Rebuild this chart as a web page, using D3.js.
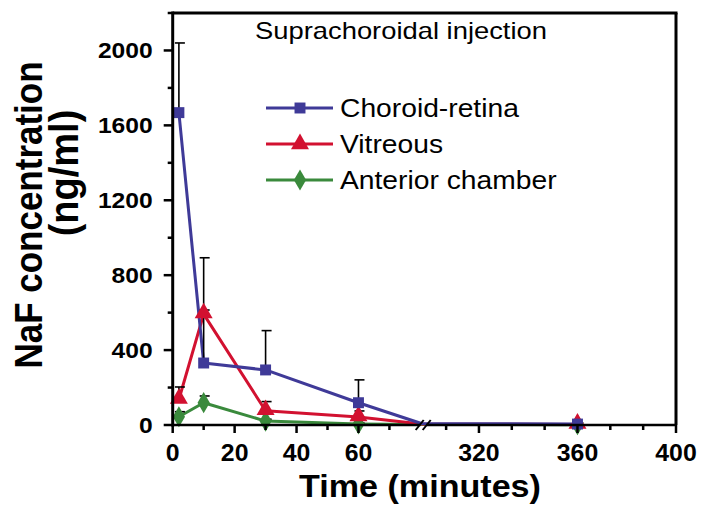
<!DOCTYPE html>
<html><head><meta charset="utf-8">
<script src="https://cdn.jsdelivr.net/npm/d3@7"></script>
<style>body{margin:0;background:#fff}svg{display:block}</style>
</head><body>
<svg id="c" width="706" height="519"></svg>
<script>
// ---- data ----
const times = [2, 10, 30, 60, 120, 360];
const choroidRetina = [1668, 331, 294, 119, 8, 5];
const choroidRetinaErr = [372, 562, 210, 122, 0, 6];
const vitreous = [136, 592, 76, 43, 5, 3];
const vitreousErr = [67, 22, 49, 32, 0, 0];
const anterior = [44, 119, 21, 6, 3, 2];
const anteriorErr = [27, 36, 10, 5, 0, 0];
const seriesNames = ["Choroid-retina", "Vitreous", "Anterior chamber"];
const yTicks = [0, 400, 800, 1200, 1600, 2000];
const yMinor = [200, 600, 1000, 1400, 1800, 2200];
const xTicksLeft = [0, 20, 40, 60];
const xMinorLeft = [10, 30, 50, 70];
const xTicksRight = [320, 360, 400];
const xMinorRight = [306.67, 333.33, 346.67, 373.33, 386.67];
const breakFrom = 80, breakTo = 298.5;

// ---- scales ----
const x = d3.scaleLinear().domain([0, breakFrom, breakTo, 400]).range([172.7, 420.4, 426, 676]);
const y = d3.scaleLinear().domain([0, 2200]).range([425, 13]);

const svg = d3.select("#c");
const SX = 1.13;
function txt(px, py, s, size, weight, anchor, rot, sx) {
  return svg.append("text")
    .attr("transform", `translate(${px},${py}) scale(${sx||SX},1)` + (rot ? ` rotate(${rot})` : ""))
    .attr("font-family", "Liberation Sans, Arial, sans-serif")
    .attr("font-size", size).attr("font-weight", weight || "normal")
    .attr("text-anchor", anchor || "start").attr("fill", "#000").text(s);
}

const colors = ["#3f3a98", "#d21130", "#3a8a3c"];
const series = [
  {name: seriesNames[0], v: choroidRetina, e: choroidRetinaErr, c: colors[0], m: "square"},
  {name: seriesNames[1], v: vitreous, e: vitreousErr, c: colors[1], m: "triangle"},
  {name: seriesNames[2], v: anterior, e: anteriorErr, c: colors[2], m: "diamond"}
];
const sym = {
  square: d3.symbol().type(d3.symbolSquare).size(120),
  triangle: d3.symbol().type(d3.symbolTriangle).size(140),
  diamond: d3.symbol().type(d3.symbolDiamond).size(130)
};
const inBreak = p => p.t > breakFrom && p.t < breakTo;

// ---- lines ----
const line = d3.line().x(d => x(d.t)).y(d => y(d.v));
series.forEach(s => {
  s.pts = times.map((t, i) => ({t, v: s.v[i], e: s.e[i]}));
});
series.slice().reverse().forEach(s => {
  svg.append("path").attr("d", line(s.pts)).attr("fill", "none")
    .attr("stroke", s.c).attr("stroke-width", 3).attr("stroke-linejoin", "round");
});
// ---- error bars (upper) ----
series.forEach(s => {
  s.pts.filter(p => p.e > 0 && !inBreak(p)).forEach(p => {
    const cx = x(p.t);
    svg.append("line").attr("x1", cx).attr("x2", cx).attr("y1", y(p.v)).attr("y2", y(p.v + p.e))
      .attr("stroke", "#000").attr("stroke-width", 1.6);
    svg.append("line").attr("x1", cx - 4).attr("x2", cx + 6).attr("y1", y(p.v + p.e)).attr("y2", y(p.v + p.e))
      .attr("stroke", "#000").attr("stroke-width", 1.6);
  });
});
// ---- markers ----
series.slice().reverse().forEach(s => {
  s.pts.filter(p => !inBreak(p)).forEach(p => {
    svg.append("path").attr("d", sym[s.m]())
      .attr("transform", `translate(${x(p.t)},${y(p.v)})` + (s.m === "triangle" ? " translate(0,-1)" : ""))
      .attr("fill", s.c);
  });
});

// ---- frame & axes ----
const X0 = x(0), X1 = x(400), Y0 = y(0), Y1 = y(2200);
svg.append("line").attr("x1", X0).attr("x2", X1 + 1.5).attr("y1", Y1).attr("y2", Y1).attr("stroke", "#000").attr("stroke-width", 3);
svg.append("line").attr("x1", X1).attr("x2", X1).attr("y1", Y1).attr("y2", Y0).attr("stroke", "#000").attr("stroke-width", 3);
svg.append("line").attr("x1", X0).attr("x2", X0).attr("y1", Y1 - 1.5).attr("y2", Y0 + 1.5).attr("stroke", "#000").attr("stroke-width", 3);
svg.append("line").attr("x1", X0).attr("x2", x(breakFrom)).attr("y1", Y0).attr("y2", Y0).attr("stroke", "#000").attr("stroke-width", 2.5);
svg.append("line").attr("x1", x(breakTo)).attr("x2", X1).attr("y1", Y0).attr("y2", Y0).attr("stroke", "#000").attr("stroke-width", 2.5);

// y ticks
yTicks.forEach(v => {
  svg.append("line").attr("x1", X0 - 9).attr("x2", X0).attr("y1", y(v)).attr("y2", y(v)).attr("stroke", "#000").attr("stroke-width", 2.5);
  txt(X0 - 20, y(v) + 8, String(v), 22, "bold", "end", 0, 1.12);
});
yMinor.forEach(v => {
  svg.append("line").attr("x1", X0 - 5).attr("x2", X0).attr("y1", y(v)).attr("y2", y(v)).attr("stroke", "#000").attr("stroke-width", 2.5);
});
// x ticks
xTicksLeft.concat(xTicksRight).forEach(v => {
  svg.append("line").attr("x1", x(v)).attr("x2", x(v)).attr("y1", Y0).attr("y2", Y0 + 8).attr("stroke", "#000").attr("stroke-width", 2.5);
  txt(x(v), 461, String(v), 23, "bold", "middle", 0, 1.08);
});
xMinorLeft.concat(xMinorRight).forEach(v => {
  svg.append("line").attr("x1", x(v)).attr("x2", x(v)).attr("y1", Y0).attr("y2", Y0 + 5).attr("stroke", "#000").attr("stroke-width", 2.5);
});
// break marks
const bx = (x(breakFrom) + x(breakTo)) / 2;
[-3.5, 3.5].forEach(d => {
  svg.append("line").attr("x1", bx + d - 4).attr("x2", bx + d + 4).attr("y1", Y0 + 5).attr("y2", Y0 - 5)
    .attr("stroke", "#000").attr("stroke-width", 2);
});

// ---- titles ----
txt(255, 39, "Suprachoroidal injection", 23, "normal", "start", 0, 1.19);
txt(420, 497, "Time (minutes)", 31, "bold", "middle", 0, 1.1);
txt(42, 215, "NaF concentration", 35, "bold", "middle", -90);
txt(78, 173, "(ng/ml)", 38, "bold", "middle", -90, 1.05);

// ---- legend ----
series.forEach((s, i) => {
  const ly = 108 + i * 36;
  svg.append("line").attr("x1", 266).attr("x2", 333).attr("y1", ly).attr("y2", ly).attr("stroke", s.c).attr("stroke-width", 3);
  svg.append("path").attr("d", sym[s.m]()).attr("transform", `translate(300,${ly})`).attr("fill", s.c);
  txt(340, ly + 9, s.name, 25, "normal", "start", 0, 1.13);
});
</script>
</body></html>
